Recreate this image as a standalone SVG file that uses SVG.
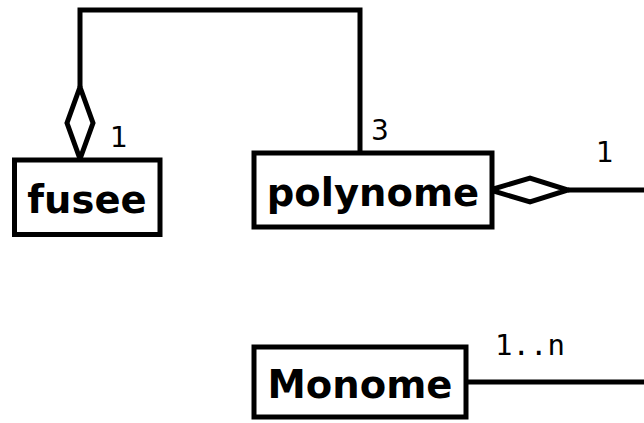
<svg xmlns="http://www.w3.org/2000/svg" width="644" height="423" viewBox="0 0 644 423">
<style>
.box{fill:#fff;stroke:#000;stroke-width:5}
.name{font-family:"DejaVu Sans",sans-serif;font-weight:bold;font-size:38.5px;text-anchor:middle}
.lbl{font-family:"DejaVu Sans",sans-serif;font-size:28px}
.mono{font-family:"DejaVu Sans Mono",monospace;font-size:29px}
.line{fill:none;stroke:#000;stroke-width:5}
.dia{fill:#fff;stroke:#000;stroke-width:5}
</style>
<rect width="644" height="423" fill="#fff"/>
<g id="connectors">
<path class="line" d="M80,87 V10 H360 V153"/>
<polygon class="dia" points="80,87 93,123 80,159 67,123"/>
<path class="line" d="M568,190 H644"/>
<polygon class="dia" points="490,190 530,178 568,190 530,202"/>
<path class="line" d="M466,382 H644"/>
<text class="lbl" x="110" y="147">1</text>
<text class="lbl" x="371" y="140">3</text>
<text class="lbl" x="596" y="162">1</text>
<text class="mono" x="495" y="355">1..n</text>
</g>
<g id="fusee">
<rect class="box" x="14.5" y="160" width="145.5" height="74.5"/>
<text class="name" x="87" y="213">fusee</text>
</g>
<g id="polynome">
<rect class="box" x="254" y="153" width="238" height="74"/>
<text class="name" x="373" y="206">polynome</text>
</g>
<g id="Monome">
<rect class="box" x="254" y="347" width="212" height="70"/>
<text class="name" x="360" y="398">Monome</text>
</g>
</svg>
